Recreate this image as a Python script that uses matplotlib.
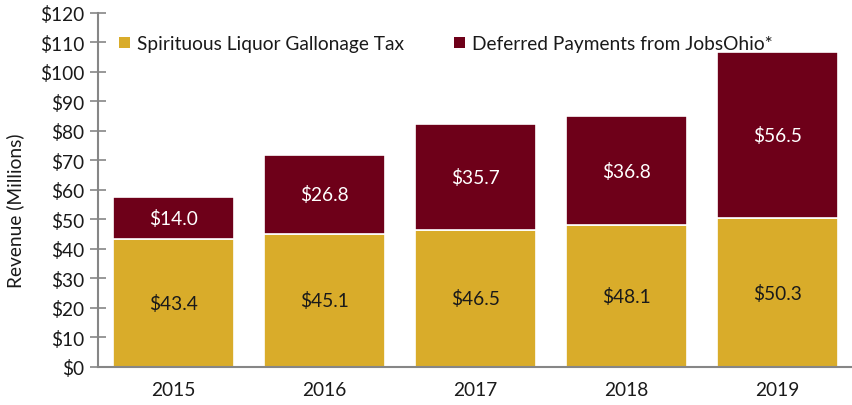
import matplotlib
matplotlib.use("Agg")
import matplotlib.pyplot as plt
from matplotlib.patches import Patch

years = ["2015", "2016", "2017", "2018", "2019"]
gallonage = [43.4, 45.1, 46.5, 48.1, 50.3]
deferred = [14.0, 26.8, 35.7, 36.8, 56.5]
yticks = list(range(0, 121, 10))

gold = "#D9AC2A"
maroon = "#6E0019"
axis_gray = "#868686"
txt = "#1a1a1a"
fs = 13.8

plt.rcParams['font.family'] = ['Lato', 'DejaVu Sans']

fig = plt.figure(figsize=(8.53, 4.06), dpi=100)
ax = fig.add_axes([0.115, 0.094, 0.885, 0.872])

x = list(range(len(years)))
ax.bar(x, gallonage, width=0.8, color=gold, edgecolor="white", linewidth=1.2)
ax.bar(x, deferred, bottom=gallonage, width=0.8, color=maroon, edgecolor="white", linewidth=1.2)

for i in x:
    ax.text(i, gallonage[i] / 2, f"${gallonage[i]:.1f}", ha="center", va="center",
            fontsize=fs, color=txt)
    ax.text(i, gallonage[i] + deferred[i] / 2, f"${deferred[i]:.1f}", ha="center", va="center",
            fontsize=fs, color="white")

ax.set_xlim(-0.5, 4.5)
ax.set_ylim(0, 120)
ax.set_yticks(yticks)
ax.set_yticklabels([f"${v}" for v in yticks], fontsize=fs, color=txt)
ax.set_xticks(x)
ax.set_xticklabels(years, fontsize=fs, color=txt)
ax.tick_params(axis="y", direction="inout", length=12, width=1.2, color=axis_gray, pad=4)
ax.tick_params(axis="x", length=0, pad=10)
for s in ["top", "right"]:
    ax.spines[s].set_visible(False)
for s in ["left", "bottom"]:
    ax.spines[s].set_color(axis_gray)
    ax.spines[s].set_linewidth(1.5)

ax.set_ylabel("Revenue (Millions)", fontsize=fs, color=txt, labelpad=5)
ax.yaxis.set_label_coords(-0.098, 0.445)

handles = [Patch(facecolor=gold, edgecolor="none"), Patch(facecolor=maroon, edgecolor="none")]
leg = ax.legend(handles, ["Spirituous Liquor Gallonage Tax", "Deferred Payments from JobsOhio*"],
                loc="upper left", bbox_to_anchor=(0.005, 0.985), ncol=2, frameon=False,
                fontsize=fs, handlelength=0.55, handleheight=0.55, handletextpad=0.4,
                columnspacing=2.6)
for t in leg.get_texts():
    t.set_color(txt)

fig.savefig("out.png", dpi=100)
